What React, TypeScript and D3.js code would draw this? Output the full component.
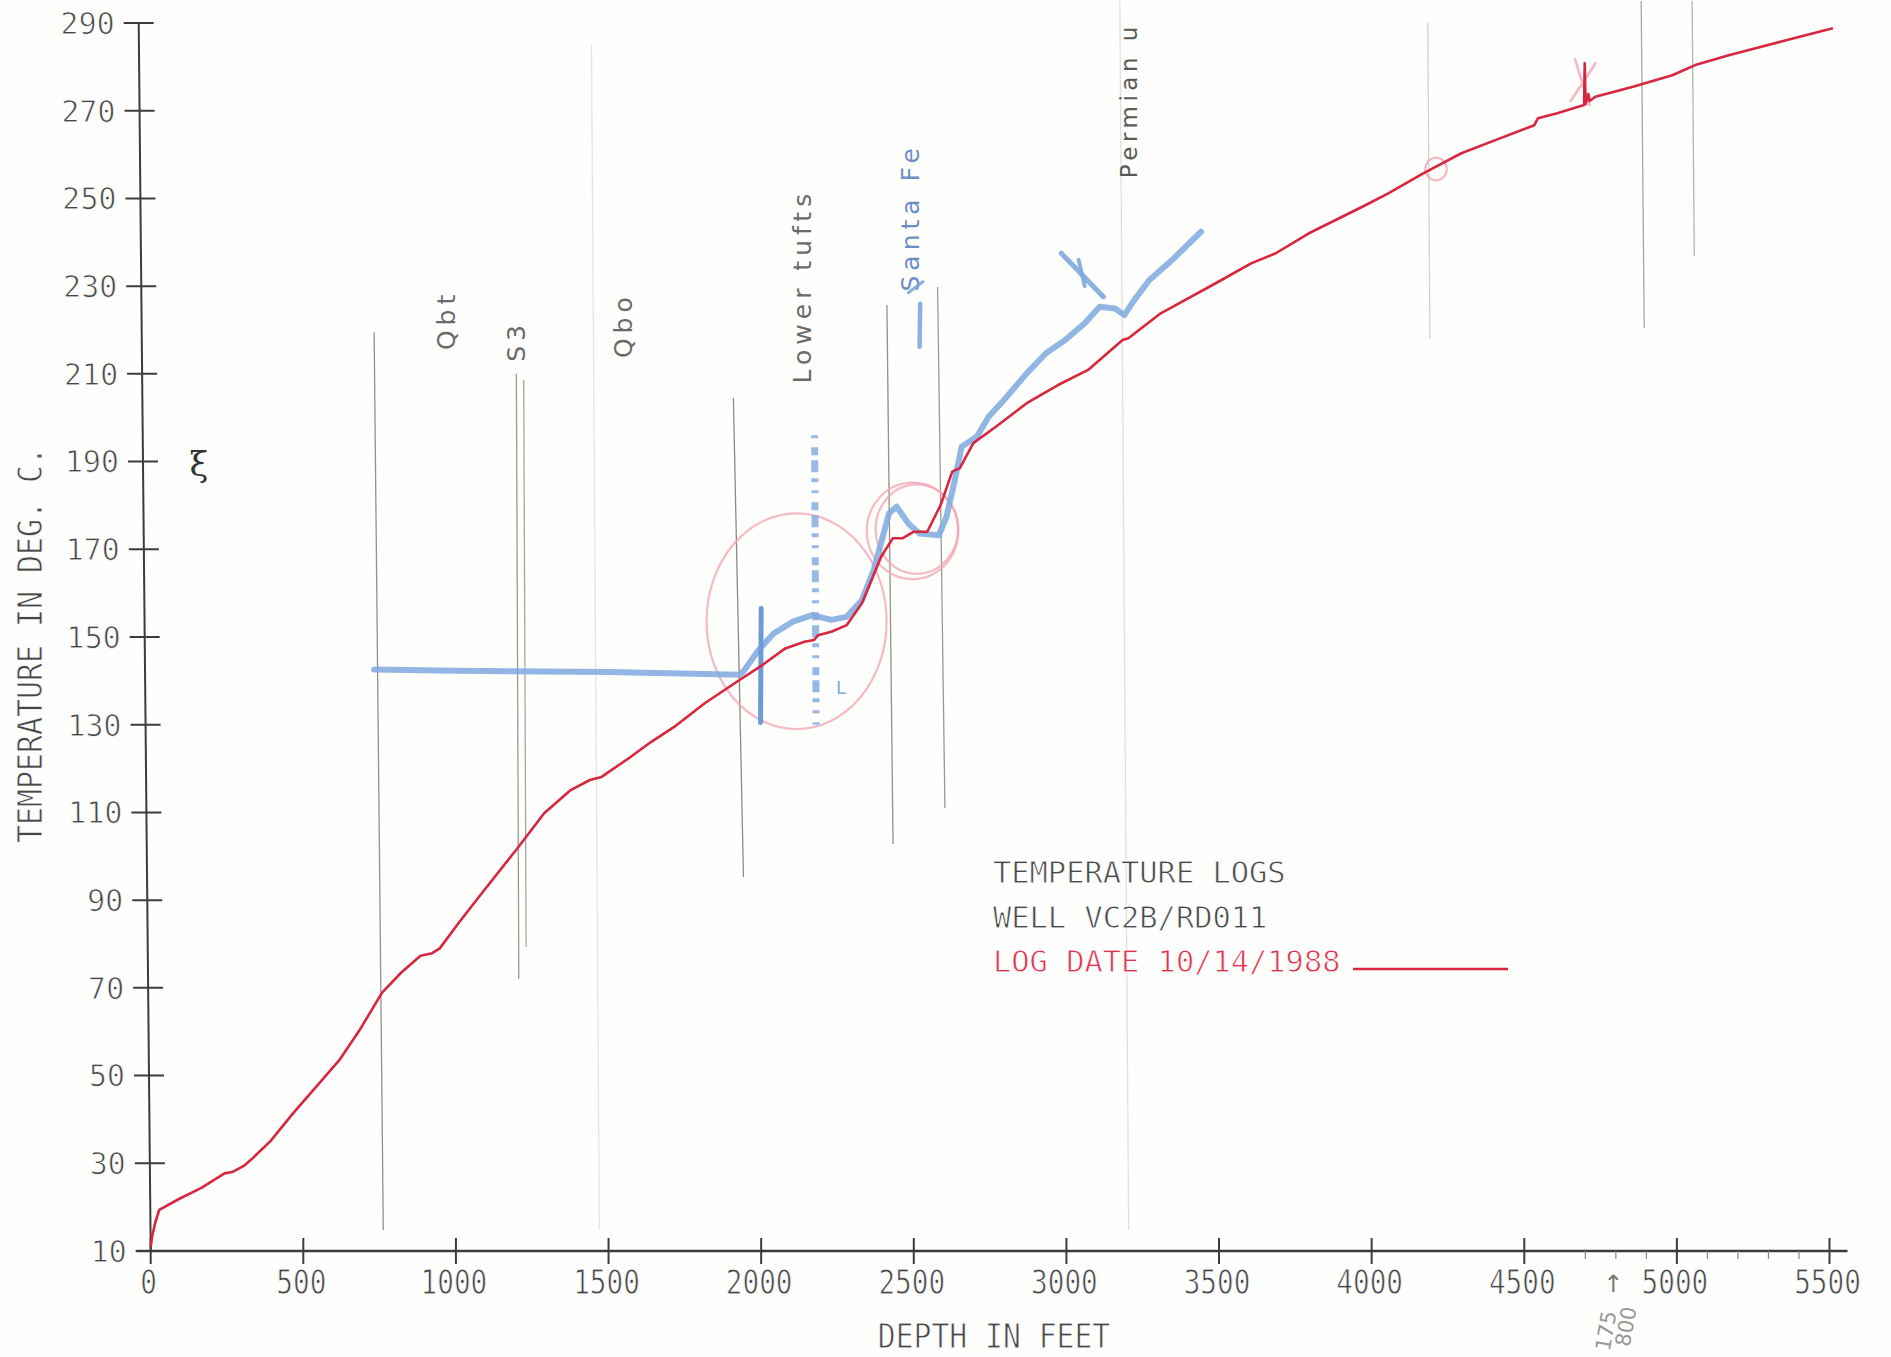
import React from 'react'
import * as d3 from 'd3'

// red temperature log, 10/14/1988 (depth ft, deg C)
const logDepth = [0, 5, 15, 28, 91, 166, 242, 267, 305, 330, 393, 469, 544, 620, 683, 758, 821, 884, 922, 947, 1010, 1086, 1199, 1289, 1376, 1439, 1477, 1565, 1640, 1715, 1815, 1929, 2004, 2079, 2142, 2173, 2186, 2230, 2280, 2330, 2393, 2431, 2463, 2500, 2544, 2588, 2626, 2651, 2695, 2770, 2870, 2971, 3071, 3184, 3203, 3309, 3498, 3605, 3686, 3793, 3981, 4056, 4169, 4294, 4420, 4533, 4545, 4608, 4696, 4698, 4701, 4710, 4714, 4733, 4859, 4985, 5060, 5173, 5361, 5511]
const logTemp = [11, 13.4, 16.5, 19.4, 21.8, 24.4, 27.7, 28, 29.4, 30.9, 35.1, 41.6, 47.6, 53.7, 60.2, 68.9, 73.5, 77.3, 77.9, 79, 84.9, 91.7, 101.6, 109.8, 115.1, 117.4, 118.1, 122.3, 126.1, 129.5, 134.9, 140.2, 143.6, 147.4, 148.9, 149.3, 150.4, 151.2, 152.7, 157.7, 168.3, 172.5, 172.5, 174, 174, 180.1, 187.7, 188.5, 194.2, 198, 203.3, 207.4, 210.9, 217.7, 218.1, 223.8, 231, 235.2, 237.5, 242, 248.5, 251.2, 255.7, 260.3, 263.7, 266.7, 268.3, 269.4, 271.3, 280.8, 271.5, 273.8, 272.2, 273.2, 275.5, 278.1, 280.4, 282.7, 286.1, 288.8]

// blue pencil trace drawn over the log
const pencilDepth = [732, 1000, 1500, 1929, 1941, 1991, 2041, 2104, 2167, 2230, 2280, 2330, 2369, 2419, 2444, 2482, 2519, 2582, 2607, 2632, 2657, 2707, 2745, 2795, 2870, 2933, 2996, 3059, 3109, 3159, 3190, 3222, 3272, 3347, 3441]
const pencilTemp = [142.6, 142.3, 142, 141.4, 142.1, 147, 150.8, 153.5, 155, 153.9, 154.6, 158.4, 165.3, 178.2, 179.7, 175.9, 173.6, 173.2, 177.4, 185, 193.4, 195.7, 200.2, 204, 210.1, 214.7, 217.7, 221.5, 225.3, 224.9, 223.4, 226.8, 231.4, 236, 242.4]

const xTicks = [0, 500, 1000, 1500, 2000, 2500, 3000, 3500, 4000, 4500, 5000, 5500]
const yTicks = [10, 30, 50, 70, 90, 110, 130, 150, 170, 190, 210, 230, 250, 270, 290]
const minorTicks = [4700, 4800, 4900, 5100, 5200, 5300, 5400]

// pencil contact lines: depth top, temp top, depth bottom, temp bottom, opacity
const contacts = [
  [732, 219.5, 762, 14.8, 0.75],
  [1198, 210, 1206, 72, 0.7],
  [1222, 208.6, 1230, 79.3, 0.6],
  [1444, 285, 1470, 14.8, 0.18],
  [1909, 204.5, 1942, 95.3, 0.8],
  [2412, 225.7, 2432, 102.8, 0.75],
  [2578, 229.8, 2602, 111, 0.7],
  [3175, 295, 3204, 14.8, 0.2],
  [4184, 290, 4191, 218, 0.3],
  [4883, 295, 4893, 220.4, 0.6],
  [5050, 295, 5057, 236.9, 0.5],
]

// handwritten formation names (rotated)
const formationNames = ['Qbt', 'S3', 'Qbo', 'Lower  tufts', 'Santa Fe']
const formationDepth = [968, 1198, 1549, 2135, 2489]
const formationTemp = [222.3, 217.5, 221.1, 230, 245.7]

// pink pencil circles: depth, temp, radius in ft, radius in deg
const circles = [
  [2116, 153.6, 295, 24.6],
  [2496, 174.2, 150, 11],
  [2510, 174.6, 135, 10.2],
  [4211, 256.7, 35, 2.6],
]

const legendLines = ['TEMPERATURE LOGS', 'WELL VC2B/RD011', 'LOG DATE 10/14/1988']

const W = 1891
const H = 1357
const mono = "'DejaVu Sans Mono', monospace"
const hand = "'DejaVu Sans', sans-serif"
const RED = '#d8263f'
const BLUE = '#7fa9de'
const INK = '#3c3c3c'

export default function App() {
  const x = d3.scaleLinear().domain([0, 5500]).range([150.7, 1829.5])
  const y = d3.scaleLinear().domain([10, 290]).range([1251, 23])
  const x0 = x(0)
  const yBase = y(10)

  const logPath = d3.line<number>().x(d => x(d)).y((_, i) => y(logTemp[i]))(logDepth) || ''
  const pencilPath = d3.line<number>().x(d => x(d)).y((_, i) => y(pencilTemp[i]))(pencilDepth) || ''

  return (
    <svg width={W} height={H} style={{ position: 'absolute', left: 0, top: 0, background: '#fefefd' }}>
      <rect width={W} height={H} fill="#fefefd" />

      {/* pencil contact lines */}
      {contacts.map((c, i) => (
        <line key={i} x1={x(c[0])} y1={y(c[1])} x2={x(c[2])} y2={y(c[3])}
          stroke="#6f6f66" strokeWidth={1.3} opacity={c[4]} />
      ))}

      {/* pink circles */}
      {circles.map((c, i) => (
        <ellipse key={i} cx={x(c[0])} cy={y(c[1])} rx={x(c[2]) - x(0)} ry={y(10) - y(10 + c[3])}
          fill="none" stroke="#f1a3b4" strokeWidth={2.2} opacity={0.75} />
      ))}
      <g stroke="#f3a6bb" strokeWidth={2.5} opacity={0.8}>
        <line x1={x(4650)} y1={y(272)} x2={x(4735)} y2={y(281)} />
        <line x1={x(4665)} y1={y(282)} x2={x(4715)} y2={y(271)} />
      </g>

      {/* y axis, drawn with the plotter's slight lean */}
      <g transform={`translate(${x0},${yBase}) skewX(0.56) translate(${-x0},${-yBase})`}>
        <line x1={x0} x2={x0} y1={y(290)} y2={yBase} stroke={INK} strokeWidth={2} />
        {yTicks.map(t => (
          <g key={t}>
            <line x1={x0 - 15} x2={x0 + 15} y1={y(t)} y2={y(t)} stroke={INK} strokeWidth={2} />
            <text x={x0 - 24} y={y(t)} dy="0.36em" textAnchor="end" fontFamily={mono} fontSize={30}
              fill="#474747" stroke="#fff" strokeWidth={0.8}>{t}</text>
          </g>
        ))}
      </g>

      {/* x axis */}
      <line x1={x0 - 14} x2={x(5500) + 18} y1={yBase} y2={yBase} stroke={INK} strokeWidth={2.4} />
      {xTicks.map(t => (
        <g key={t}>
          <line x1={x(t)} x2={x(t)} y1={yBase - 13} y2={yBase + 13} stroke={INK} strokeWidth={2} />
          <text transform={`translate(${x(t) - 2},${yBase + 43}) scale(0.84,1)`} textAnchor="middle"
            fontFamily={mono} fontSize={33} fill="#474747" stroke="#fff" strokeWidth={0.8}>{t}</text>
        </g>
      ))}
      {minorTicks.map(t => (
        <line key={t} x1={x(t)} x2={x(t)} y1={yBase} y2={yBase + 8} stroke="#888" strokeWidth={1.2} />
      ))}

      {/* axis titles */}
      <text transform={`translate(994,1348) scale(0.9,1)`} textAnchor="middle" fontFamily={mono}
        fontSize={33} fill="#474747" stroke="#fff" strokeWidth={0.8}>DEPTH IN FEET</text>
      <text transform={`translate(42,645) rotate(-90) scale(0.88,1)`} textAnchor="middle" fontFamily={mono}
        fontSize={34} fill="#474747" stroke="#fff" strokeWidth={0.8}>TEMPERATURE IN DEG. C.</text>

      {/* formation names */}
      {formationNames.map((n, i) => (
        <text key={n} transform={`translate(${x(formationDepth[i])},${y(formationTemp[i])}) rotate(-90)`}
          dy="0.35em" textAnchor="middle" fontFamily={hand} fontSize={25} letterSpacing={5}
          fill={n === 'Santa Fe' ? '#6c8fc4' : '#6a6a6a'}>{n}</text>
      ))}
      <text transform={`translate(${x(3205)},${y(254.6)}) rotate(-90)`} dy="0.35em" textAnchor="start"
        fontFamily={hand} fontSize={23} letterSpacing={4.5} fill="#5a5a5a">Permian u</text>
      <text x={x(158)} y={y(189.4)} dy="0.35em" textAnchor="middle" fontFamily="'DejaVu Serif', serif"
        fontSize={34} fill="#333">ξ</text>

      {/* blue pencil marks */}
      <path d={pencilPath} fill="none" stroke={BLUE} strokeWidth={6} strokeLinejoin="round"
        strokeLinecap="round" opacity={0.85} />
      <line x1={x(2000)} x2={x(1998)} y1={y(156.5)} y2={y(130.5)} stroke="#6e9bd6" strokeWidth={5}
        strokeLinecap="round" />
      <line x1={x(2175)} x2={x(2180)} y1={y(196)} y2={y(130)} stroke={BLUE} strokeWidth={7}
        strokeDasharray="3 9 8 5 12 6 4 8" opacity={0.8} />
      <line x1={x(2983)} y1={y(237.5)} x2={x(3121)} y2={y(227.6)} stroke={BLUE} strokeWidth={5}
        strokeLinecap="round" opacity={0.9} />
      <line x1={x(3040)} y1={y(236)} x2={x(3060)} y2={y(230)} stroke={BLUE} strokeWidth={4}
        strokeLinecap="round" opacity={0.9} />
      <line x1={x(2519)} y1={y(216.2)} x2={x(2521)} y2={y(226)} stroke={BLUE} strokeWidth={4.5}
        strokeLinecap="round" opacity={0.9} />
      <line x1={x(2482)} y1={y(228.5)} x2={x(2530)} y2={y(231)} stroke={BLUE} strokeWidth={3}
        strokeLinecap="round" opacity={0.9} />
      <text x={x(2245)} y={y(137)} fontFamily={hand} fontSize={18} fill={BLUE}>L</text>

      {/* red log */}
      <path d={logPath} fill="none" stroke={RED} strokeWidth={2.6} strokeLinejoin="round" />

      {/* legend */}
      {legendLines.map((l, i) => (
        <text key={l} transform={`translate(993,${883 + i * 44.5}) scale(0.98,1)`} fontFamily={mono}
          fontSize={31} fill={i === 2 ? '#e0334d' : '#474747'} stroke="#fff" strokeWidth={0.8}>{l}</text>
      ))}
      <line x1={1353} x2={1508} y1={969} y2={969} stroke={RED} strokeWidth={2.4} />

      {/* bottom pencil note */}
      <text x={x(4792)} y={y(2.5)} dy="0.35em" textAnchor="middle" fontFamily={hand} fontSize={24}
        fill="#777">↑</text>
      <text transform={`translate(${x(4780)},${y(-13)}) rotate(-80)`} fontFamily={hand} fontSize={21}
        fill="#999">175</text>
      <text transform={`translate(${x(4845)},${y(-12)}) rotate(-80)`} fontFamily={hand} fontSize={21}
        fill="#999">800</text>
    </svg>
  )
}
